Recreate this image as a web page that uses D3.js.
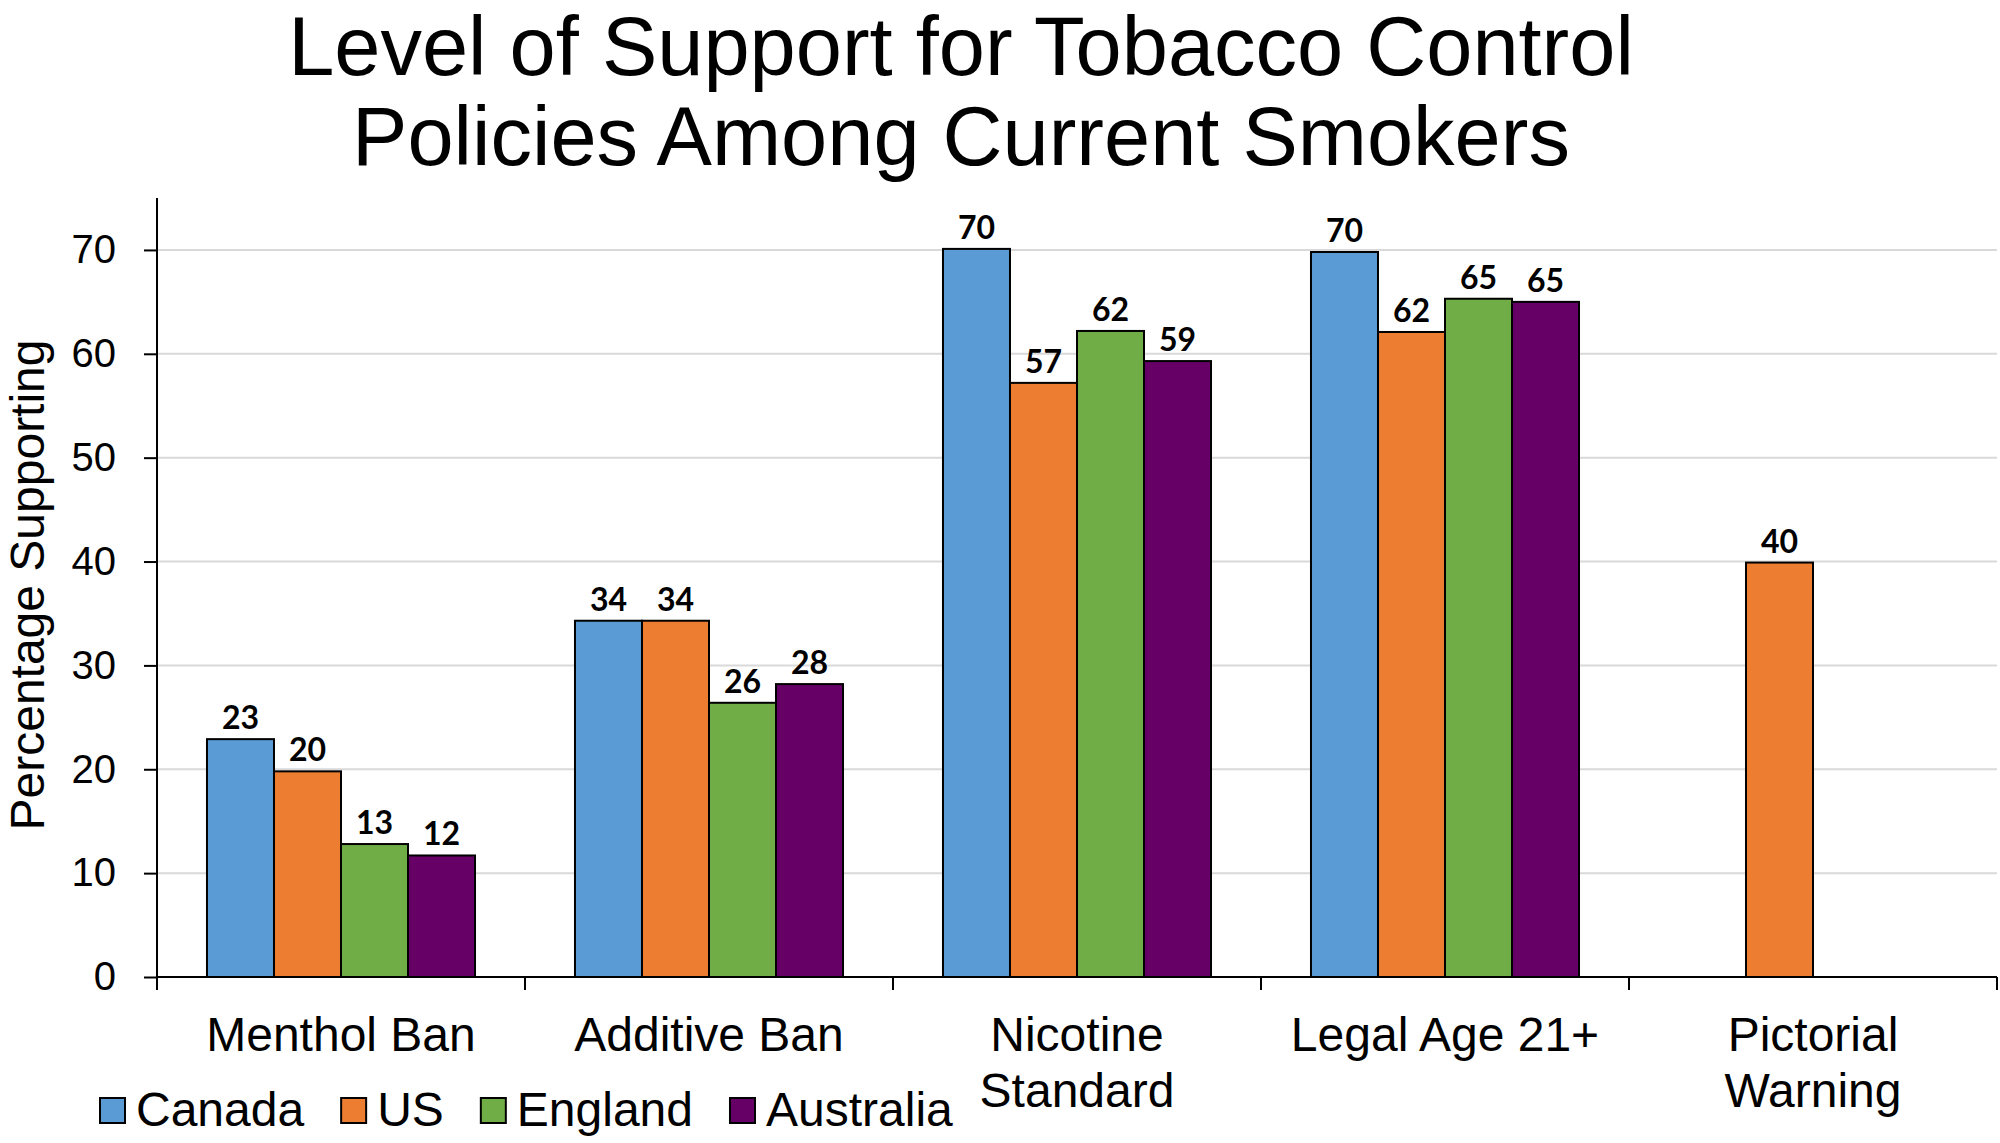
<!DOCTYPE html>
<html>
<head>
<meta charset="utf-8">
<script src="https://cdn.jsdelivr.net/npm/d3@7"></script>
<style>
  html, body { margin: 0; padding: 0; background: #fff; }
  svg { display: block; }
</style>
</head>
<body>
<svg id="chart" width="2000" height="1143"></svg>
<script>
// ---- data ----
const categories = ["Menthol Ban", "Additive Ban", "Nicotine Standard", "Legal Age 21+", "Pictorial Warning"];
const categoryLines = [["Menthol Ban"], ["Additive Ban"], ["Nicotine", "Standard"], ["Legal Age 21+"], ["Pictorial", "Warning"]];
const series = ["Canada", "US", "England", "Australia"];
const canada    = [22.9, 34.3, 70.1, 69.8, null];
const us        = [19.8, 34.3, 57.2, 62.1, 39.9];
const england   = [12.8, 26.4, 62.2, 65.3, null];
const australia = [11.7, 28.2, 59.3, 65.0, null];
const yTicks = [0, 10, 20, 30, 40, 50, 60, 70];
const titleLines = ["Level of Support for Tobacco Control", "Policies Among Current Smokers"];
const yTitle = "Percentage Supporting";
const colors = ["#5B9BD5", "#ED7D31", "#70AD47", "#660066"];

const valuesBySeries = [canada, us, england, australia];

// ---- layout ----
const svg = d3.select("#chart");
const pLeft = 157, pRight = 1997, pTop = 198, pBottom = 977;

const x = d3.scaleBand().domain(categories).range([pLeft, pRight]).paddingInner(0).paddingOuter(0);
const xs = d3.scaleBand().domain(series).range([0, x.bandwidth()]).paddingInner(0).paddingOuter(0.746);
const y = d3.scaleLinear().domain([0, 75]).range([pBottom, pTop]);

const sans = "'Liberation Sans', Arial, sans-serif";

// gridlines
svg.append("g")
  .selectAll("line")
  .data(yTicks.filter(t => t > 0))
  .join("line")
  .attr("x1", pLeft).attr("x2", pRight)
  .attr("y1", d => y(d)).attr("y2", d => y(d))
  .attr("stroke", "#d9d9d9").attr("stroke-width", 2);

// y axis
const yAxis = svg.append("g")
  .attr("transform", `translate(${pLeft},0)`)
  .call(d3.axisLeft(y).tickValues(yTicks).tickSize(13).tickPadding(28).tickFormat(d3.format("d")));
yAxis.select(".domain").attr("stroke", "#000").attr("stroke-width", 2).attr("d", `M0,${y(75)}V${pBottom}`);
yAxis.selectAll(".tick line").attr("stroke", "#000").attr("stroke-width", 2);
yAxis.selectAll(".tick text").attr("font-family", sans).attr("font-size", 40).attr("fill", "#000");

// bars
const bars = [];
categories.forEach((c, i) => {
  series.forEach((s, j) => {
    const v = valuesBySeries[j][i];
    if (v != null) bars.push({ c, s, v, j });
  });
});

svg.append("g")
  .selectAll("rect")
  .data(bars)
  .join("rect")
  .attr("x", d => x(d.c) + xs(d.s))
  .attr("y", d => y(d.v))
  .attr("width", xs.bandwidth())
  .attr("height", d => y(0) - y(d.v))
  .attr("fill", d => colors[d.j])
  .attr("stroke", "#000").attr("stroke-width", 2);

// data labels
svg.append("g")
  .selectAll("text")
  .data(bars)
  .join("text")
  .attr("x", d => x(d.c) + xs(d.s) + xs.bandwidth() / 2)
  .attr("y", d => y(d.v) - 10)
  .attr("text-anchor", "middle")
  .attr("font-family", "Lato, 'Open Sans', sans-serif")
  .attr("font-weight", 700)
  .attr("font-size", 32)
  .attr("fill", "#000")
  .text(d => d3.format(".0f")(d.v));

// x axis
const xAxis = svg.append("g")
  .attr("transform", `translate(0,${pBottom})`);
xAxis.append("line").attr("x1", pLeft).attr("x2", pRight).attr("y1", 0).attr("y2", 0)
  .attr("stroke", "#000").attr("stroke-width", 2);
const boundaries = categories.map(c => x(c)).concat([x(categories[categories.length - 1]) + x.bandwidth()]);
xAxis.selectAll("line.tk")
  .data(boundaries)
  .join("line").attr("class", "tk")
  .attr("x1", d => d).attr("x2", d => d)
  .attr("y1", 0).attr("y2", 13)
  .attr("stroke", "#000").attr("stroke-width", 2);

const xl = svg.append("g");
categories.forEach((c, i) => {
  const t = xl.append("text")
    .attr("x", x(c) + x.bandwidth() / 2)
    .attr("y", 1051)
    .attr("text-anchor", "middle")
    .attr("font-family", sans).attr("font-size", 48).attr("fill", "#000");
  categoryLines[i].forEach((ln, k) => {
    t.append("tspan").attr("x", x(c) + x.bandwidth() / 2).attr("dy", k === 0 ? 0 : 56).text(ln);
  });
});

// y title
svg.append("text")
  .attr("transform", "translate(44,585) rotate(-90)")
  .attr("text-anchor", "middle")
  .attr("font-family", sans).attr("font-size", 48).attr("fill", "#000")
  .text(yTitle);

// title
svg.append("g").selectAll("text")
  .data(titleLines)
  .join("text")
  .attr("x", 961)
  .attr("y", (d, i) => 75 + i * 90)
  .attr("text-anchor", "middle")
  .attr("font-family", sans).attr("font-size", 83).attr("fill", "#000")
  .text(d => d);

// legend
const lg = svg.append("g");
let lx = 100;
series.forEach((s, j) => {
  lg.append("rect").attr("x", lx).attr("y", 1098).attr("width", 25).attr("height", 25)
    .attr("fill", colors[j]).attr("stroke", "#000").attr("stroke-width", 2);
  const t = lg.append("text").attr("x", lx + 36).attr("y", 1126)
    .attr("font-family", sans).attr("font-size", 48).attr("fill", "#000").text(s);
  lx += 36 + t.node().getComputedTextLength() + 37;
});
</script>
</body>
</html>
